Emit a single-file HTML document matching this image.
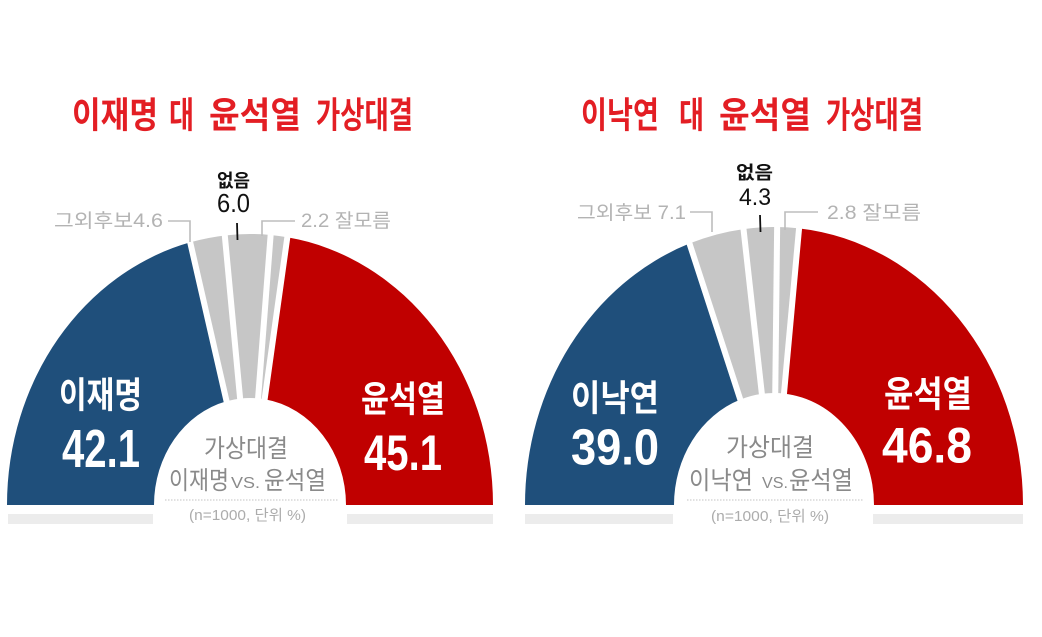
<!DOCTYPE html>
<html>
<head>
<meta charset="utf-8">
<style>
html,body{margin:0;padding:0;background:#fff;}
svg{display:block;}
.t{font-family:"Liberation Sans","Noto Sans CJK KR",sans-serif;}
</style>
</head>
<body>
<svg width="1042" height="637" viewBox="0 0 1042 637" xmlns="http://www.w3.org/2000/svg">
<rect width="1042" height="637" fill="#fff"/>

<!-- ===== LEFT CHART ===== -->
<!-- bottom strips -->
<rect x="8" y="514" width="145" height="10" fill="#ececec"/>
<rect x="347" y="514" width="146" height="10" fill="#ececec"/>

<path d="M 7 505 A 243 271 0 0 1 190.32 242.29 L 226.42 401.27 A 96 107 0 0 0 154 505 Z" fill="#1f4f7b"/>
<path d="M 190.32 242.29 A 243 271 0 0 1 224.85 235.46 L 240.06 398.58 A 96 107 0 0 0 226.42 401.27 Z" fill="#c6c6c6"/>
<path d="M 224.85 235.46 A 243 271 0 0 1 270.58 234.98 L 258.13 398.39 A 96 107 0 0 0 240.06 398.58 Z" fill="#c6c6c6"/>
<path d="M 270.58 234.98 A 243 271 0 0 1 287.25 237.20 L 264.72 399.26 A 96 107 0 0 0 258.13 398.39 Z" fill="#c6c6c6"/>
<path d="M 287.25 237.20 A 243 271 0 0 1 493 505 L 346 505 A 96 107 0 0 0 264.72 399.26 Z" fill="#c00000"/>
<g stroke="#fff" stroke-width="6" stroke-linecap="butt">
<line x1="188.85" y1="236.48" x2="227.90" y2="407.09"/>
<line x1="224.23" y1="229.50" x2="240.68" y2="404.55"/>
<line x1="271.09" y1="229.00" x2="257.62" y2="404.36"/>
<line x1="288.17" y1="231.27" x2="263.80" y2="405.19"/>
</g>

<!-- leaders -->
<polyline points="168,221 190,221 190,242" fill="none" stroke="#bdbdbd" stroke-width="1.6"/>
<polyline points="295,221 262,221 262,236" fill="none" stroke="#bdbdbd" stroke-width="1.6"/>
<line x1="237" y1="223" x2="237.5" y2="240" stroke="#111" stroke-width="1.8"/>

<!-- dotted line -->
<line x1="165" y1="500" x2="338" y2="500" stroke="#cfcfcf" stroke-width="1.2" stroke-dasharray="1.5 1.5"/>

<!-- title -->
<g class="t" fill="#e31e24" font-weight="bold" font-size="36">
<text x="72" y="127.5" textLength="86" lengthAdjust="spacingAndGlyphs">이재명</text>
<text x="169" y="127.5" textLength="25" lengthAdjust="spacingAndGlyphs">대</text>
<text x="209" y="127.5" textLength="92" lengthAdjust="spacingAndGlyphs">윤석열</text>
<text x="316" y="127.5" textLength="97" lengthAdjust="spacingAndGlyphs">가상대결</text>
</g>

<!-- segment labels -->
<g class="t" fill="#fff" font-weight="bold">
<text x="59" y="407.5" font-size="36" textLength="83" lengthAdjust="spacingAndGlyphs">이재명</text>
<text x="62" y="467" font-size="54" textLength="78" lengthAdjust="spacingAndGlyphs">42.1</text>
<text x="361" y="411.5" font-size="36" textLength="84" lengthAdjust="spacingAndGlyphs">윤석열</text>
<text x="364" y="470" font-size="50" textLength="78" lengthAdjust="spacingAndGlyphs">45.1</text>
</g>

<!-- top labels -->
<g class="t">
<text x="217" y="187" font-size="18" font-weight="bold" fill="#111" textLength="33" lengthAdjust="spacingAndGlyphs">없음</text>
<text x="217" y="212" font-size="26" fill="#111" textLength="33" lengthAdjust="spacingAndGlyphs">6.0</text>
<text x="54" y="227" font-size="19" fill="#b3b3b3" textLength="109" lengthAdjust="spacingAndGlyphs">그외후보4.6</text>
<text x="301" y="227" font-size="19" fill="#b3b3b3" textLength="90" lengthAdjust="spacingAndGlyphs">2.2 잘모름</text>
</g>

<!-- center text -->
<g class="t" fill="#8a8a8a">
<text x="204" y="457" font-size="25" textLength="84" lengthAdjust="spacingAndGlyphs">가상대결</text>
<text x="169" y="489" font-size="25" textLength="60" lengthAdjust="spacingAndGlyphs">이재명</text>
<text x="231" y="488" font-size="16" textLength="29" lengthAdjust="spacingAndGlyphs">VS.</text>
<text x="264" y="489" font-size="25" textLength="62" lengthAdjust="spacingAndGlyphs">윤석열</text>
<text x="189" y="520" font-size="15" fill="#acacac" textLength="117" lengthAdjust="spacingAndGlyphs">(n=1000, 단위 %)</text>
</g>

<!-- ===== RIGHT CHART ===== -->
<rect x="525" y="514" width="148" height="10" fill="#ececec"/>
<rect x="873" y="514" width="150" height="10" fill="#ececec"/>

<path d="M 525 505 A 249 278 0 0 1 689.66 243.43 L 740.13 399.62 A 100 112 0 0 0 674 505 Z" fill="#1f4f7b"/>
<path d="M 689.66 243.43 A 249 278 0 0 1 743.57 229.08 L 761.78 393.84 A 100 112 0 0 0 740.13 399.62 Z" fill="#c6c6c6"/>
<path d="M 743.57 229.08 A 249 278 0 0 1 777.13 227.02 L 775.26 393.01 A 100 112 0 0 0 761.78 393.84 Z" fill="#c6c6c6"/>
<path d="M 777.13 227.02 A 249 278 0 0 1 799.00 228.40 L 784.04 393.57 A 100 112 0 0 0 775.26 393.01 Z" fill="#c6c6c6"/>
<path d="M 799.00 228.40 A 249 278 0 0 1 1023 505 L 874 505 A 100 112 0 0 0 784.04 393.57 Z" fill="#c00000"/>
<g stroke="#fff" stroke-width="6" stroke-linecap="butt">
<line x1="687.63" y1="237.78" x2="742.16" y2="405.26"/>
<line x1="742.84" y1="223.13" x2="762.51" y2="399.79"/>
<line x1="777.21" y1="221.02" x2="775.18" y2="399.01"/>
<line x1="799.60" y1="222.43" x2="783.44" y2="399.54"/>
</g>

<polyline points="690,212 712,212 712,232" fill="none" stroke="#bdbdbd" stroke-width="1.6"/>
<polyline points="818,212 785,212 785,230" fill="none" stroke="#bdbdbd" stroke-width="1.6"/>
<line x1="760" y1="215" x2="760.5" y2="232" stroke="#111" stroke-width="1.8"/>

<line x1="687" y1="500" x2="863" y2="500" stroke="#cfcfcf" stroke-width="1.2" stroke-dasharray="1.5 1.5"/>

<g class="t" fill="#e31e24" font-weight="bold" font-size="36">
<text x="581" y="127.5" textLength="78" lengthAdjust="spacingAndGlyphs">이낙연</text>
<text x="679" y="127.5" textLength="25" lengthAdjust="spacingAndGlyphs">대</text>
<text x="719" y="127.5" textLength="92" lengthAdjust="spacingAndGlyphs">윤석열</text>
<text x="826" y="127.5" textLength="97" lengthAdjust="spacingAndGlyphs">가상대결</text>
</g>

<g class="t" fill="#fff" font-weight="bold">
<text x="571" y="410.5" font-size="36" textLength="88" lengthAdjust="spacingAndGlyphs">이낙연</text>
<text x="571" y="464.5" font-size="51" textLength="88" lengthAdjust="spacingAndGlyphs">39.0</text>
<text x="884" y="406.5" font-size="36" textLength="88" lengthAdjust="spacingAndGlyphs">윤석열</text>
<text x="882" y="462.5" font-size="50" textLength="90" lengthAdjust="spacingAndGlyphs">46.8</text>
</g>

<g class="t">
<text x="736" y="179" font-size="18" font-weight="bold" fill="#111" textLength="37" lengthAdjust="spacingAndGlyphs">없음</text>
<text x="739" y="205" font-size="24" fill="#111" textLength="32" lengthAdjust="spacingAndGlyphs">4.3</text>
<text x="577" y="219" font-size="19" fill="#b3b3b3" textLength="109" lengthAdjust="spacingAndGlyphs">그외후보 7.1</text>
<text x="827" y="219" font-size="19" fill="#b3b3b3" textLength="94" lengthAdjust="spacingAndGlyphs">2.8 잘모름</text>
</g>

<g class="t" fill="#8a8a8a">
<text x="726" y="456" font-size="25" textLength="88" lengthAdjust="spacingAndGlyphs">가상대결</text>
<text x="689" y="489" font-size="25" textLength="64" lengthAdjust="spacingAndGlyphs">이낙연</text>
<text x="762" y="488" font-size="16" textLength="26" lengthAdjust="spacingAndGlyphs">VS.</text>
<text x="789" y="489" font-size="25" textLength="64" lengthAdjust="spacingAndGlyphs">윤석열</text>
<text x="711" y="521" font-size="15" fill="#acacac" textLength="118" lengthAdjust="spacingAndGlyphs">(n=1000, 단위 %)</text>
</g>
</svg>
</body>
</html>
